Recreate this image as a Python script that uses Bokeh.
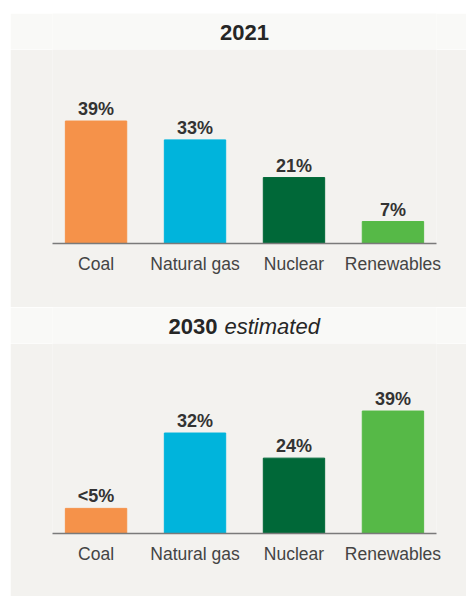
from bokeh.plotting import figure
from bokeh.models import ColumnDataSource, FactorRange, Range1d, Label
from bokeh.layouts import column
from bokeh.core.properties import value
from bokeh.embed import file_html
from bokeh.resources import INLINE

# ---- data ----
categories = ["Coal", "Natural gas", "Nuclear", "Renewables"]
colors = ["#f5924a", "#00b4dc", "#006838", "#56b947"]
values_2021 = [39, 33, 21, 7]
labels_2021 = ["39%", "33%", "21%", "7%"]
values_2030 = [8, 32, 24, 39]
labels_2030 = ["<5%", "32%", "24%", "39%"]

PANEL = "#f3f2ef"
BAND = "#f9f9f7"
FONT = "Liberation Sans"
W = 456
PX_PER_UNIT = 3.14


def strip(height, color):
    f = figure(width=W, height=height, x_range=Range1d(0, 1), y_range=Range1d(0, 1),
               output_backend="svg", toolbar_location=None,
               x_axis_location=None, y_axis_location=None, min_border=0)
    f.background_fill_color = color
    f.border_fill_color = color
    f.outline_line_color = None
    f.grid.visible = False
    return f


def title_band(parts):
    f = figure(width=W, height=36, x_range=Range1d(0, 1), y_range=Range1d(0, 1),
               output_backend="svg", toolbar_location=None,
               x_axis_location=None, y_axis_location=None,
               min_border=0, min_border_left=42, min_border_right=28)
    f.background_fill_color = BAND
    f.border_fill_color = BAND
    f.outline_line_color = None
    f.grid.visible = False
    for text, style, align, xoff in parts:
        f.add_layout(Label(x=0.5, y=0.5, text=text, x_offset=xoff, y_offset=-1,
                           text_align=align, text_baseline="middle",
                           text_font=FONT, text_font_size="22px",
                           text_font_style=style, text_color="#262626"))
    return f


def chart(vals, labs, height, bottom):
    frame_h = height - bottom
    src = ColumnDataSource(dict(cat=categories, val=vals, lab=labs, color=colors))
    f = figure(width=W, height=height,
               x_range=FactorRange(factors=categories, range_padding=-0.06,
                                   range_padding_units="absolute"),
               y_range=Range1d(0, frame_h / PX_PER_UNIT),
               output_backend="svg", toolbar_location=None, y_axis_location=None,
               min_border=0, min_border_left=40, min_border_right=30,
               min_border_bottom=bottom)
    f.background_fill_color = PANEL
    f.border_fill_color = PANEL
    f.outline_line_color = None
    f.grid.visible = False
    f.vbar(x="cat", top="val", bottom=0, width=0.62, color="color", source=src)
    f.text(x="cat", y="val", text="lab", source=src, text_align="center",
           text_baseline="alphabetic", y_offset=-12,
           text_font=value(FONT), text_font_size="18px", text_font_style="bold",
           text_color="#333333")
    ax = f.xaxis[0]
    ax.axis_line_color = "#7a7a7a"
    ax.axis_line_width = 1.6
    ax.major_tick_line_color = None
    ax.minor_tick_line_color = None
    ax.major_tick_in = 0
    ax.major_tick_out = 0
    ax.major_label_standoff = 10
    ax.major_label_text_font = FONT
    ax.major_label_text_font_size = "17.5px"
    ax.major_label_text_color = "#444444"
    return f


top_strip = strip(4, PANEL)
t1 = title_band([("2021", "bold", "center", 0)])
c1 = chart(values_2021, labels_2021, 258, 64)
t2 = title_band([("2030", "bold", "left", -76), ("estimated", "italic", "left", -20)])
c2 = chart(values_2030, labels_2030, 253, 63)

layout = column(top_strip, t1, c1, t2, c2, spacing=0, margin=(9, 0, 0, 10))

open("out.html", "w").write(file_html(layout, INLINE))
